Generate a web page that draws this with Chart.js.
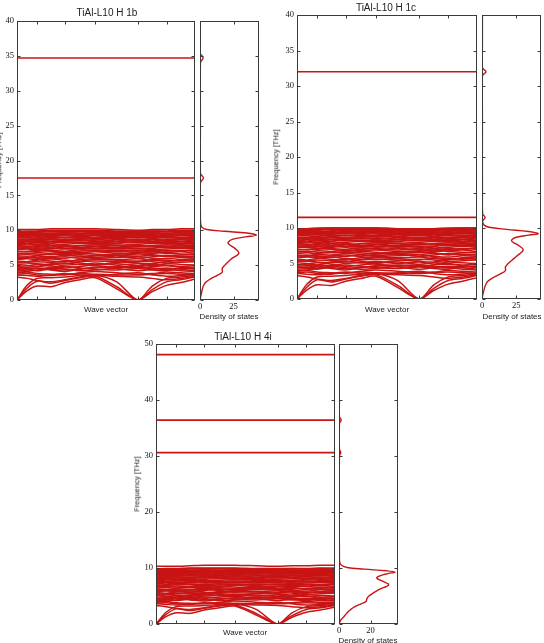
<!DOCTYPE html>
<html>
<head>
<meta charset="utf-8">
<script src="https://cdn.jsdelivr.net/npm/chart.js@4.4.1/dist/chart.umd.min.js"></script>
<style>
  body { margin:0; background:#fff; width:544px; height:643px; overflow:hidden; position:relative;
         font-family:"Liberation Sans", Arial, sans-serif; }
  canvas { position:absolute; }
  .lbl { position:absolute; white-space:nowrap; color:#222; line-height:1; transform:translate(-50%,-50%); }
  .title { font-size:10px; }
  .ax { font-size:8px; }
  .rot { font-size:7.5px; transform:translate(-50%,-50%) rotate(-90deg); }
</style>
</head>
<body>
<canvas id="bands1b" width="200" height="312" style="left:0px;top:0px"></canvas>
<canvas id="dos1b" width="70" height="322" style="left:196px;top:0px"></canvas>
<canvas id="bands1c" width="210" height="312" style="left:272px;top:0px"></canvas>
<canvas id="dos1c" width="66" height="322" style="left:478px;top:0px"></canvas>
<canvas id="bands4i" width="210" height="323" style="left:130px;top:320px"></canvas>
<canvas id="dos4i" width="70" height="323" style="left:335px;top:320px"></canvas>

<div class="lbl title" style="left:107px;top:13px">TiAl-L10 H 1b</div>
<div class="lbl title" style="left:386px;top:8px">TiAl-L10 H 1c</div>
<div class="lbl title" style="left:243px;top:337px">TiAl-L10 H 4i</div>
<div class="lbl ax" style="left:106px;top:310px">Wave vector</div>
<div class="lbl ax" style="left:387px;top:310px">Wave vector</div>
<div class="lbl ax" style="left:245px;top:633px">Wave vector</div>
<div class="lbl ax" style="left:229px;top:317px">Density of states</div>
<div class="lbl ax" style="left:512px;top:317px">Density of states</div>
<div class="lbl ax" style="left:368px;top:641px">Density of states</div>
<div class="lbl rot" style="left:-1px;top:160px">Frequency [THz]</div>
<div class="lbl rot" style="left:276px;top:157px">Frequency [THz]</div>
<div class="lbl rot" style="left:137px;top:484px">Frequency [THz]</div>

<script>
const RED = "#c81414";

// q-point positions along the wave vector path (0..100) and the marked points
const pathX = [0, 5.6, 11.2, 19, 27, 35.5, 44, 56, 68, 76, 84, 92, 100];
const pathTicks = [11.2, 27, 44, 68, 84];

// bands 0-10 THz, same for the three H sites (values at pathX)
const bandsCommon = [
  [0, 1.3, 2.0, 1.9, 2.5, 2.9, 3.2, 1.6, 0, 1.2, 2.1, 2.5, 3.0],
  [0, 1.7, 2.7, 2.4, 2.8, 3.2, 3.4, 1.9, 0, 1.5, 2.6, 2.9, 3.3],
  [0, 2.1, 3.1, 3.2, 3.3, 3.5, 3.6, 2.6, 0, 2.0, 3.1, 3.3, 3.5],
  [3.3, 3.1, 2.8, 2.6, 2.9, 3.3, 3.5, 3.4, 3.3, 3.1, 2.9, 3.1, 3.4],
  [3.6, 3.5, 3.4, 3.6, 3.8, 3.6, 3.5, 3.7, 3.9, 3.6, 3.4, 3.5, 3.7],
  [3.7, 3.8, 3.6, 3.5, 3.7, 3.8, 3.7, 3.6, 3.6, 3.7, 3.8, 3.7, 3.6],
  [3.9, 4.0, 3.8, 3.7, 3.6, 3.9, 4.1, 3.9, 3.7, 3.8, 4.0, 3.9, 3.8],
  [4.0, 4.1, 4.3, 4.6, 4.4, 4.2, 4.3, 4.6, 4.8, 4.6, 4.4, 4.2, 4.1],
  [4.2, 4.3, 4.5, 4.3, 4.1, 4.4, 4.7, 4.5, 4.2, 4.4, 4.6, 4.4, 4.2],
  [4.4, 4.5, 4.6, 4.4, 4.3, 4.5, 4.6, 4.8, 4.7, 4.5, 4.4, 4.6, 4.4],
  [4.5, 4.4, 4.2, 4.5, 4.8, 4.6, 4.4, 4.3, 4.5, 4.3, 4.2, 4.5, 4.6],
  [4.6, 4.7, 4.8, 4.7, 5.0, 5.1, 4.9, 4.7, 4.6, 4.8, 4.9, 4.7, 4.6],
  [4.8, 4.9, 5.1, 4.9, 4.6, 4.8, 5.0, 5.2, 4.9, 5.1, 5.0, 4.8, 4.9],
  [5.1, 5.0, 4.8, 5.2, 5.3, 5.1, 5.3, 5.0, 5.2, 4.9, 5.2, 5.1, 5.0],
  [5.3, 5.4, 5.5, 5.4, 5.6, 5.3, 5.1, 5.4, 5.6, 5.5, 5.3, 5.4, 5.5],
  [5.4, 5.3, 5.2, 5.1, 5.2, 5.5, 5.6, 5.5, 5.3, 5.2, 5.5, 5.7, 5.6],
  [5.6, 5.5, 5.7, 5.9, 5.7, 5.6, 5.8, 5.7, 5.5, 5.8, 5.7, 5.6, 5.8],
  [5.8, 5.9, 5.8, 5.6, 5.5, 5.8, 5.9, 5.8, 5.9, 5.7, 5.6, 5.8, 5.9],
  [5.9, 6.0, 6.1, 5.9, 6.0, 6.2, 6.0, 6.1, 6.2, 6.0, 5.9, 6.1, 6.0],
  [6.1, 6.2, 6.0, 6.1, 6.2, 6.0, 6.3, 6.4, 6.3, 6.4, 6.2, 6.3, 6.2],
  [6.2, 6.1, 6.3, 6.2, 6.4, 6.3, 6.1, 6.3, 6.0, 6.2, 6.4, 6.2, 6.3],
  [6.4, 6.5, 6.4, 6.6, 6.5, 6.7, 6.6, 6.4, 6.6, 6.5, 6.3, 6.5, 6.6],
  [6.6, 6.7, 6.6, 6.5, 6.7, 6.5, 6.4, 6.6, 6.7, 6.9, 6.7, 6.6, 6.5],
  [6.7, 6.6, 6.8, 6.7, 6.9, 6.8, 6.9, 6.7, 6.8, 6.7, 6.8, 6.9, 6.7],
  [6.9, 7.0, 7.1, 7.0, 6.8, 7.0, 7.1, 6.9, 7.1, 6.9, 7.1, 7.0, 7.2],
  [7.0, 6.9, 7.0, 7.1, 7.0, 7.2, 7.0, 7.1, 7.0, 7.1, 7.0, 7.1, 7.0],
  [7.2, 7.3, 7.2, 7.3, 7.4, 7.3, 7.4, 7.3, 7.4, 7.2, 7.3, 7.4, 7.3],
  [7.4, 7.5, 7.4, 7.5, 7.3, 7.4, 7.3, 7.4, 7.3, 7.4, 7.6, 7.5, 7.4],
  [7.5, 7.4, 7.5, 7.4, 7.6, 7.5, 7.6, 7.5, 7.6, 7.6, 7.5, 7.6, 7.5],
  [7.7, 7.6, 7.8, 7.6, 7.8, 7.6, 7.7, 7.6, 7.8, 7.7, 7.7, 7.6, 7.7],
  [7.8, 7.7, 7.7, 7.8, 7.7, 7.8, 7.9, 7.8, 7.7, 7.8, 7.9, 7.8, 7.8],
  [8.0, 7.9, 8.0, 7.9, 8.0, 8.1, 8.0, 7.9, 8.0, 8.1, 8.0, 8.1, 8.0],
  [8.1, 8.1, 8.2, 8.1, 8.3, 8.2, 8.1, 8.1, 8.3, 8.2, 8.1, 8.0, 8.1],
  [8.2, 8.3, 8.2, 8.3, 8.2, 8.3, 8.2, 8.3, 8.2, 8.3, 8.2, 8.3, 8.2],
  [8.4, 8.5, 8.4, 8.4, 8.4, 8.5, 8.4, 8.6, 8.4, 8.6, 8.4, 8.4, 8.3],
  [8.5, 8.4, 8.5, 8.6, 8.5, 8.6, 8.5, 8.4, 8.5, 8.4, 8.5, 8.6, 8.5],
  [8.6, 8.6, 8.7, 8.7, 8.6, 8.7, 8.8, 8.7, 8.6, 8.7, 8.6, 8.8, 8.6],
  [8.7, 8.7, 8.6, 8.8, 8.7, 8.8, 8.7, 8.8, 8.7, 8.8, 8.7, 8.7, 8.8],
  [8.9, 8.9, 8.8, 9.0, 8.9, 9.0, 8.9, 9.0, 8.9, 9.0, 8.9, 8.9, 9.0],
  [9.0, 9.0, 9.1, 8.9, 9.0, 8.9, 9.0, 9.2, 9.0, 9.1, 9.0, 9.0, 8.9],
  [9.1, 9.1, 9.0, 9.1, 9.2, 9.1, 9.2, 9.1, 9.1, 9.2, 9.1, 9.2, 9.1],
  [9.2, 9.3, 9.3, 9.2, 9.3, 9.3, 9.3, 9.3, 9.2, 9.3, 9.3, 9.3, 9.2],
  [9.3, 9.2, 9.2, 9.3, 9.4, 9.2, 9.4, 9.2, 9.3, 9.4, 9.2, 9.4, 9.3],
  [9.4, 9.4, 9.4, 9.4, 9.5, 9.4, 9.5, 9.4, 9.4, 9.5, 9.4, 9.5, 9.4],
  [9.5, 9.6, 9.5, 9.6, 9.6, 9.6, 9.7, 9.6, 9.5, 9.6, 9.6, 9.6, 9.6],
  [9.6, 9.5, 9.6, 9.5, 9.7, 9.5, 9.6, 9.5, 9.6, 9.7, 9.5, 9.7, 9.5],
  [9.7, 9.7, 9.7, 9.8, 9.8, 9.8, 9.8, 9.7, 9.7, 9.8, 9.8, 9.8, 9.7],
  [9.8, 9.9, 9.9, 10.0, 10.0, 10.0, 10.0, 9.9, 9.9, 9.9, 9.9, 10.0, 10.0],
  [9.9, 9.8, 9.8, 9.9, 9.9, 9.9, 9.9, 9.8, 9.8, 9.9, 9.8, 9.9, 9.8]
];
const topBand1b = [10.1, 10.1, 10.1, 10.2, 10.2, 10.2, 10.2, 10.1, 10.0, 10.1, 10.1, 10.2, 10.2];
const topBand1c = [9.9, 9.9, 10.0, 10.0, 10.0, 10.0, 10.0, 9.9, 9.9, 9.9, 10.0, 10.0, 10.0];
const topBand4i = [10.3, 10.3, 10.3, 10.4, 10.5, 10.5, 10.5, 10.4, 10.3, 10.4, 10.4, 10.5, 10.5];

// flat hydrogen modes
const hBands1b = [17.5, 34.7];
const hBands1c = [11.5, 32.0];
const hBands4i = [30.6, 36.4, 48.1];

// density of states (frequency -> DOS)
const dosFreq1b = [0, 0.5, 1, 1.5, 2, 2.5, 3, 3.5, 4, 4.5, 5, 5.5, 6, 6.7, 7.4, 8, 8.3, 8.7, 9.05, 9.3, 9.6, 9.85, 10.1, 10.4, 10.8, 12, 16.8, 17.5, 18.2, 25, 34.0, 34.7, 35.3];
const dos1b     = [0, 0.4, 1, 1.6, 2.4, 4, 7.5, 12.5, 16.5, 16.5, 18.5, 21, 24, 29, 26, 21.5, 21, 24, 34, 42, 35, 18, 5, 1.5, 0.5, 0.2, 0.2, 2.5, 0.2, 0.2, 0.2, 2.2, 0.2];
const dosFreq1c = [0, 0.5, 1, 1.5, 2, 2.5, 3, 3.5, 4, 4.5, 5, 5.5, 6, 6.9, 7.5, 8.0, 8.3, 8.7, 9.0, 9.2, 9.5, 9.8, 10.1, 10.4, 10.8, 11.0, 11.5, 12.0, 14, 25, 31.4, 32.0, 32.6, 36, 40];
const dos1c     = [0, 0.4, 1, 1.7, 2.6, 4.2, 8, 13, 17, 17, 19, 22, 25, 30, 27, 22.5, 21.5, 25, 34, 41, 34, 18, 5, 1.5, 0.4, 0.4, 2.2, 0.4, 0.2, 0.2, 0.2, 2.8, 0.2, 0.2, 0.2];
const dosFreq4i = [0, 0.4, 0.8, 1.3, 1.9, 2.5, 3.1, 3.6, 4.0, 4.3, 4.7, 5.2, 6.1, 7.0, 7.6, 8.2, 8.6, 9.0, 9.25, 9.5, 9.8, 10.1, 10.5, 11, 12, 20, 30.0, 30.6, 31.2, 35.8, 36.4, 37.0, 40];
const dos4i     = [0, 0.5, 1.3, 3.0, 4.8, 7, 10, 14, 17, 17.5, 18, 20, 25, 31.5, 28, 24, 26, 31, 35.5, 30, 16, 5, 1.5, 0.4, 0.2, 0.1, 0.2, 1.0, 0.2, 0.2, 1.3, 0.2, 0.2];

const freqTicks40 = [0, 5, 10, 15, 20, 25, 30, 35, 40];
const freqTicks50 = [0, 10, 20, 30, 40, 50];
const dosTicks25 = [0, 25];
const dosTicks20 = [0, 20];

const tickFont = { family: "Liberation Serif", size: 8.5 };

// box round the plot area with small inward ticks on every side
const framePlugin = {
  id: "frame",
  afterDraw(chart, args, opts) {
    const { ctx, chartArea: a, scales } = chart;
    ctx.save();
    ctx.strokeStyle = "#3a3a3a";
    ctx.lineWidth = 1;
    const l = Math.round(a.left) + 0.5, t = Math.round(a.top) + 0.5;
    const r = Math.round(a.right) - 0.5, b = Math.round(a.bottom) - 0.5;
    ctx.strokeRect(l, t, r - l, b - t);
    ctx.beginPath();
    (opts.yTicks || []).forEach(v => {
      const py = Math.round(scales.y.getPixelForValue(v)) + 0.5;
      ctx.moveTo(l, py); ctx.lineTo(l + 3, py);
      ctx.moveTo(r - 3, py); ctx.lineTo(r, py);
    });
    (opts.xTicks || []).forEach(v => {
      const px = Math.round(scales.x.getPixelForValue(v)) + 0.5;
      ctx.moveTo(px, b); ctx.lineTo(px, b - 3);
      ctx.moveTo(px, t); ctx.lineTo(px, t + 3);
    });
    ctx.stroke();
    ctx.restore();
  }
};

function bandChart(id, bands, flat, yMax, yTicks, pad, yWidth) {
  const datasets = bands.map(b => ({
    data: b.map((f, i) => ({ x: pathX[i], y: f })),
    showLine: true, borderColor: RED, borderWidth: 1.5, pointRadius: 0, tension: 0.3
  }));
  flat.forEach(f => datasets.push({
    data: [{ x: 0, y: f }, { x: 100, y: f }],
    showLine: true, borderColor: RED, borderWidth: 1.6, pointRadius: 0
  }));
  return new Chart(document.getElementById(id), {
    type: "scatter",
    data: { datasets },
    options: {
      responsive: false, animation: false,
      layout: { padding: pad },
      plugins: { legend: { display: false }, tooltip: { enabled: false },
                 frame: { xTicks: pathTicks, yTicks } },
      scales: {
        x: { type: "linear", min: 0, max: 100,
             grid: { display: false, drawTicks: false }, border: { display: false },
             ticks: { display: false },
             afterFit: s => { s.height = 0; } },
        y: { min: 0, max: yMax,
             grid: { display: false, drawTicks: false }, border: { display: false },
             afterBuildTicks: s => { s.ticks = yTicks.map(v => ({ value: v })); },
             ticks: { padding: 3, color: "#111", font: tickFont },
             afterFit: s => { s.width = yWidth; } }
      }
    },
    plugins: [framePlugin]
  });
}

function dosChart(id, freq, dos, dosMax, dosTicks, yMax, yTicks, pad) {
  return new Chart(document.getElementById(id), {
    type: "scatter",
    data: { datasets: [{
      data: freq.map((f, i) => ({ x: dos[i], y: f })),
      showLine: true, borderColor: RED, borderWidth: 1.4, pointRadius: 0, tension: 0.4
    }] },
    options: {
      responsive: false, animation: false,
      layout: { padding: pad },
      plugins: { legend: { display: false }, tooltip: { enabled: false },
                 frame: { xTicks: dosTicks, yTicks } },
      scales: {
        x: { type: "linear", min: 0, max: dosMax,
             grid: { display: false, drawTicks: false }, border: { display: false },
             afterBuildTicks: s => { s.ticks = dosTicks.map(v => ({ value: v })); },
             ticks: { padding: 2, color: "#111", font: tickFont, maxRotation: 0 },
             afterFit: s => { s.height = 14; } },
        y: { min: 0, max: yMax,
             grid: { display: false, drawTicks: false }, border: { display: false },
             ticks: { display: false },
             afterFit: s => { s.width = 0; } }
      }
    },
    plugins: [framePlugin]
  });
}

bandChart("bands1b", bandsCommon.concat([topBand1b]), hBands1b, 40, freqTicks40,
  { left: 0, top: 21, right: 5, bottom: 12 }, 17);
dosChart("dos1b", dosFreq1b, dos1b, 44, dosTicks25, 40, freqTicks40,
  { left: 3, top: 21, right: 7, bottom: 8 });

bandChart("bands1c", bandsCommon.concat([topBand1c]), hBands1c, 40, freqTicks40,
  { left: 0, top: 15, right: 5, bottom: 13 }, 25);
dosChart("dos1c", dosFreq1c, dos1c, 43, dosTicks25, 40, freqTicks40,
  { left: 3, top: 15, right: 3, bottom: 9 });

bandChart("bands4i", bandsCommon.concat([topBand4i]), hBands4i, 50, freqTicks50,
  { left: 0, top: 24, right: 5, bottom: 19 }, 26);
dosChart("dos4i", dosFreq4i, dos4i, 37.5, dosTicks20, 50, freqTicks50,
  { left: 3, top: 24, right: 7, bottom: 5 });
</script>
</body>
</html>
